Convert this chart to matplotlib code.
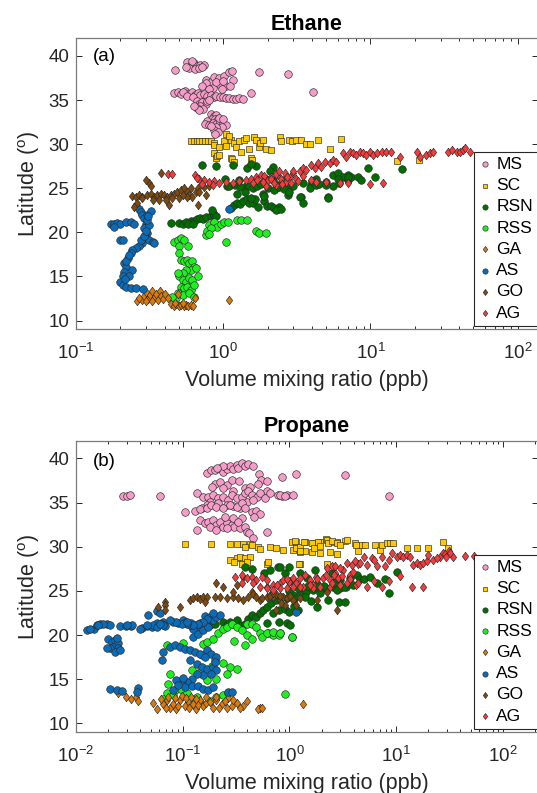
import matplotlib
matplotlib.use('Agg')
import matplotlib.pyplot as plt
from matplotlib.ticker import LogLocator, NullFormatter

plt.rcParams['font.family'] = ['Liberation Sans', 'DejaVu Sans']
plt.rcParams['mathtext.fontset'] = 'custom'
plt.rcParams['mathtext.rm'] = 'Liberation Sans'
plt.rcParams['mathtext.it'] = 'Liberation Sans'
plt.rcParams['mathtext.bf'] = 'Liberation Sans:bold'

# ---------------- data: (volume mixing ratio [ppb], latitude [deg]) ----------------
series_names = ['MS', 'SC', 'RSN', 'RSS', 'GA', 'AS', 'GO', 'AG']

# Ethane
eth_MS = [(0.57,39.3),(0.60,39.0),(0.63,39.2),(0.66,38.9),(0.70,39.0),(0.74,39.0),(0.59,38.6),(0.64,38.5),(0.68,38.6),(0.56,38.7),(0.72,38.8),(0.61,39.4),
          (0.47,38.4),(1.75,38.2),(2.75,38.0),(4.1,35.9),(1.55,35.8),
          (0.76,37.3),(0.82,37.0),(0.86,37.6),(0.94,37.5),(1.02,37.7),(1.10,38.2),(1.16,37.3),(1.05,36.6),(0.94,36.8),(0.85,36.4),(0.76,36.9),(0.72,36.6),(0.98,36.2),(1.12,36.6),(1.15,38.3),(0.90,37.0),(1.00,37.2),(0.80,36.2),
          (0.46,35.8),(0.49,35.9),(0.52,35.7),(0.55,36.0),(0.58,35.7),(0.61,35.9),(0.64,35.6),(0.67,35.8),(0.70,35.6),(0.74,35.7),(0.78,35.5),(0.82,35.6),(0.86,35.4),(0.90,35.5),(0.95,35.3),(1.00,35.4),(1.05,35.2),(1.10,35.2),(1.16,35.1),(1.22,35.1),(1.28,35.2),(1.36,35.1),(0.53,35.9),(0.57,35.5),(0.62,35.4),
          (0.66,34.9),(0.69,34.6),(0.72,34.8),(0.76,34.6),(0.70,34.3),(0.66,34.1),(0.73,34.0),(0.68,33.9),(0.78,34.9),(0.80,35.0),(0.63,34.3),
          (0.82,33.4),(0.86,33.2),(0.90,33.3),(0.84,32.9),(0.88,32.8),(0.92,32.9),(0.96,32.7),(0.78,32.6),(0.75,32.3),(0.80,32.2),(0.85,32.4),(0.90,32.3),(0.95,32.5),(1.00,32.4),(1.04,32.2),(0.98,31.9),(0.90,31.9),(0.86,31.6),(0.92,31.4),(0.88,31.2),(0.82,32.0),(0.94,33.0),(1.00,32.9)]
eth_SC = [(0.60,30.35),(0.63,30.35),(0.66,30.35),(0.69,30.35),(0.72,30.35),(0.75,30.35),(0.79,30.3),(0.83,30.3),(0.87,30.1),
          (0.87,29.9),(0.94,29.7),(1.02,30.3),(1.04,29.8),(1.13,30.5),(1.19,30.1),(1.22,29.7),(1.29,30.3),(1.32,29.15),(1.39,30.5),(1.43,30.7),(1.50,29.5),(1.63,30.85),(1.67,30.5),(1.74,29.7),(1.78,30.1),(1.85,30.5),(1.95,29.5),(2.11,29.35),(2.42,30.8),(2.45,30.3),(2.81,30.5),(2.95,30.3),(3.12,30.5),(3.39,30.5),(3.66,30.0),(3.9,30.0),(4.4,30.5),(5.3,29.5),(6.35,30.55),
          (0.87,28.96),(0.89,28.4),(0.91,28.6),(0.94,28.8),(1.13,28.4),(1.15,28.3),(1.18,28.0),(1.54,28.4),(1.58,28.2),(15.2,28.1),(21.5,28.2),(1.05,31.1),(1.10,30.9)]
eth_RSN = [(0.44,21.1),(0.50,21.1),(0.53,21.0),(0.56,21.2),(0.60,21.3),(0.63,21.3),(0.66,21.5),(0.70,21.6),(0.73,21.5),(0.77,21.7),(0.82,21.9),(0.85,22.2),(0.87,22.0),(0.90,21.8),(0.84,22.5),(0.58,20.9),(0.62,21.0),
           (1.13,22.8),(1.18,23.1),(1.24,23.3),(1.30,23.2),(1.37,23.6),(1.44,23.8),(1.49,23.3),(1.60,23.3),(1.65,23.8),(1.90,23.5),(1.98,23.0),(2.10,23.0),(2.20,22.8),(2.35,22.6),(2.40,22.9),(1.55,23.9),(1.72,22.9),
           (0.72,27.6),(0.90,27.5),(1.03,26.0),(1.06,25.2),(1.28,25.9),(1.43,25.2),(1.46,27.3),(1.67,27.5),(1.85,24.4),(1.95,26.1),(2.17,27.45),(2.28,25.0),(2.53,25.9),(2.89,25.2),(3.37,24.05),(3.95,25.4),(4.27,26.1),(5.13,24.05),(5.54,25.2),(6.15,25.56),(7.0,26.5),
           (2.07,26.9),(2.18,25.9),(2.35,25.4),(2.55,25.2),(2.75,24.2),(3.31,24.05),(3.48,23.3),(3.87,25.0),(4.29,25.4),(5.02,25.75),(5.15,23.9),(5.57,26.5),(6.03,26.7),(6.52,26.3),(7.05,25.9),(7.43,26.3),(8.25,26.3),(8.68,25.9),(9.64,27.26),(10.7,26.3),(16.3,27.2),
           (1.1,25.2),(1.2,25.4),(1.3,25.1),(1.5,25.3),(1.6,25.0),(1.7,25.2),(1.8,25.5),(2.0,25.0),(2.2,24.8),(2.4,25.1),(2.6,24.9),(3.0,25.3),(3.5,25.6),(4.0,25.8),(4.5,25.5),(5.0,25.4),(6.0,26.0),(7.0,26.3),(1.25,24.3),(1.4,24.6),(1.9,24.1),(2.8,24.6),(1.16,27.6),(1.55,27.7),(2.3,22.5),(2.45,22.7)]
eth_RSS = [(0.80,20.84),(0.87,21.2),(0.91,20.65),(0.96,21.0),(1.02,21.2),(1.07,21.2),(1.25,21.4),(1.32,21.4),(1.46,21.4),(1.67,20.1),(1.76,19.9),(1.95,19.9),(1.04,18.95),(0.76,19.7),(0.78,20.2),(0.82,20.5),(0.80,19.8),
           (0.464,18.95),(0.49,19.14),(0.515,19.33),(0.543,19.14),(0.50,18.4),(0.50,17.6),(0.515,16.9),(0.543,16.7),(0.572,16.9),(0.587,16.5),(0.618,16.7),(0.635,16.1),(0.60,15.7),(0.557,15.7),(0.53,15.4),(0.50,15.0),(0.49,15.4),(0.53,14.6),(0.557,14.4),(0.587,14.8),(0.618,14.6),(0.515,13.85),(0.543,13.66),(0.572,13.85),(0.60,13.5),(0.635,14.0),(0.49,13.1),(0.53,12.9),(0.587,13.1),(0.635,12.7),(0.48,12.5),(0.45,12.7),(0.65,16.0),(0.67,15.1),(0.58,18.5)]
eth_GA = [(0.26,12.2),(0.28,12.3),(0.29,12.8),(0.30,13.2),(0.31,12.4),(0.32,12.9),(0.33,13.4),(0.34,12.6),(0.35,13.0),(0.36,12.3),(0.37,13.3),(0.38,12.8),(0.39,12.4),(0.40,13.0),(0.42,12.5),(0.30,12.2),(0.33,12.2),(0.27,12.6),
          (0.44,11.9),(0.46,11.7),(0.48,11.9),(0.50,11.7),(0.52,11.8),(0.54,11.6),(0.56,11.8),(0.58,11.7),(0.60,11.8),(0.62,11.7),(0.47,12.0),(0.53,12.0),
          (1.1,12.3),(0.645,12.5),(0.49,13.0)]
eth_AS = [(0.172,20.9),(0.18,21.0),(0.19,21.1),(0.20,20.9),(0.218,21.2),(0.235,21.2),(0.248,21.0),(0.18,20.6),(0.20,19.1),(0.21,19.1),
          (0.255,23.0),(0.268,22.6),(0.275,22.3),(0.283,22.0),(0.29,21.6),(0.298,21.0),(0.298,20.5),(0.306,19.9),(0.298,19.3),(0.314,19.1),(0.331,18.9),(0.283,18.8),(0.268,18.4),(0.255,18.2),(0.242,18.0),(0.235,17.6),(0.275,19.1),(0.29,20.5),(0.306,22.0),(0.322,22.4),(0.314,20.8),(0.306,21.4),(0.34,18.8),(0.29,19.6),(0.30,20.2),(0.31,21.8),
          (0.224,17.1),(0.212,16.5),(0.218,16.1),(0.212,15.55),(0.207,15.0),(0.20,14.4),(0.207,14.0),(0.218,13.8),(0.235,13.7),(0.255,13.7),(0.242,15.7),(0.229,15.0),(0.287,13.55),(0.22,16.8),(0.23,17.4),(0.215,14.7),
          (1.1,22.7)]
eth_GO = [(0.242,24.1),(0.255,24.05),(0.268,24.24),(0.283,24.05),(0.306,24.24),(0.322,24.4),(0.34,24.05),(0.357,24.24),(0.377,24.4),(0.397,24.24),(0.418,24.05),(0.44,24.24),(0.464,24.4),(0.489,24.6),(0.515,24.8),(0.543,25.0),(0.557,24.4),(0.572,24.6),(0.587,24.24),(0.618,24.05),(0.652,24.6),(0.669,25.0),(0.687,24.6),(0.762,24.24),
          (0.429,23.1),(0.669,23.1),(0.26,23.3),(0.248,22.9),(0.314,25.56),(0.322,25.2),(0.377,26.7),(0.283,23.9),(0.331,23.7),(0.367,23.7),(0.407,23.7),(0.50,23.9),(0.572,24.05),(0.30,25.9),(0.74,25.1),(0.80,25.3),(0.45,23.9),(0.53,24.2),(0.60,25.0)]
eth_AG = [(0.42,26.6),(0.45,26.6),
          (0.645,26.5),(0.687,26.1),(0.74,25.9),(0.80,25.75),(0.87,25.8),(0.94,25.6),(1.04,25.75),(1.16,25.6),(1.28,25.8),(1.43,25.94),(1.54,26.1),(1.67,26.3),(1.80,26.5),(1.95,26.1),(0.66,26.2),(0.72,25.5),(0.85,25.4),
          (2.01,25.94),(2.12,26.3),(2.23,25.75),(2.35,26.5),(2.48,26.1),(2.61,26.7),(2.68,25.75),(2.83,26.3),(2.98,26.7),(3.14,26.1),(3.31,26.9),(3.48,27.26),(3.67,27.07),(3.97,27.64),(4.18,27.26),(4.41,27.83),(4.64,27.45),(4.89,28.0),(5.29,27.83),(5.57,28.2),(5.87,28.0),(6.52,28.96),(6.87,28.59),(7.23,29.15),(7.62,28.96),(8.03,28.78),(8.46,29.15),(8.91,28.96),(9.39,28.78),(9.89,29.15),(10.4,28.78),(11.0,28.96),(11.9,29.15),(12.8,29.15),(13.9,29.15),(15.8,28.59),(20.6,29.15),(21.7,28.59),(24.0,28.78),(25.3,28.96),(26.7,29.15),(33.7,29.15),(35.6,29.34),(38.5,29.15),(40.5,29.15),(42.7,29.34),(43.8,29.53),(47.4,29.15),
          (3.97,25.94),(4.29,25.75),(5.02,25.75),(6.19,25.56),(7.05,25.56),(9.89,25.5),(12.2,25.56),(1.96,25.2),(2.29,25.37),
          (1.6,25.6),(1.7,25.9),(1.9,26.4),(2.1,26.0),(2.3,26.6),(2.5,25.5),(2.7,26.3),(2.9,25.6),(3.2,25.8),(3.5,26.4),(3.0,26.9),(2.4,26.9),(2.2,25.6),(1.85,25.7)]

# Propane
pro_MS = [(0.167,38.4),(0.186,38.7),(0.20,38.7),(0.223,38.9),(0.24,38.5),(0.258,38.8),(0.277,39.1),(0.297,38.8),(0.32,39.3),(0.33,38.9),(0.356,39.5),(0.382,39.1),(0.411,39.4),(0.451,39.1),(0.237,39.1),(0.21,38.9),
          (0.52,38.2),(0.545,37.6),(0.51,37.1),(0.85,37.9),(1.16,38.2),(3.3,38.1),(8.6,35.8),(0.61,37.5),(0.62,36.3),
          (0.20,37.1),(0.223,37.3),(0.258,37.0),(0.287,37.6),(0.34,37.4),(0.382,36.6),(0.43,36.8),(0.297,36.3),(0.24,36.6),(0.19,36.8),
          (0.135,36.07),(0.156,35.69),(0.173,35.69),(0.193,35.88),(0.215,35.5),(0.24,35.69),(0.267,35.31),(0.287,35.88),(0.32,35.5),(0.356,35.69),(0.382,36.07),(0.411,36.26),(0.442,35.88),(0.492,35.69),(0.528,36.07),(0.589,35.5),(0.655,36.07),(0.784,35.88),(0.843,35.77),(0.938,35.88),(1.08,35.88),(0.82,35.9),(0.90,35.8),
          (0.18,35.12),(0.215,34.93),(0.258,34.75),(0.297,34.56),(0.344,34.37),(0.396,35.12),(0.457,35.31),(0.167,34.75),(0.15,34.37),
          (0.105,33.9),(0.13,34.0),(0.145,34.3),(0.167,34.4),(0.186,34.7),(0.207,34.5),(0.24,34.4),(0.277,34.7),(0.32,34.5),(0.356,34.9),(0.382,34.4),(0.442,33.9),(0.49,34.1),(0.528,33.7),(0.47,33.4),
          (0.145,33.04),(0.16,32.66),(0.173,32.85),(0.193,33.04),(0.207,32.47),(0.223,32.85),(0.24,32.28),(0.258,32.66),(0.287,32.47),(0.305,32.28),(0.344,32.1),(0.382,32.28),(0.396,31.72),(0.42,31.53),(0.457,30.96),(0.356,33.23),(0.297,33.23),(0.25,33.42),(0.61,31.72),(0.18,32.28),(0.207,31.9),(0.258,32.1),(0.33,32.85),(0.135,31.9),
          (0.0277,35.7),(0.0298,35.75),(0.032,35.9),(0.061,35.8)]
pro_SC = [(0.105,30.3),(0.186,30.3),(0.277,30.32),(0.32,30.32),(0.368,30.32),(0.426,30.32),(0.382,29.94),(0.442,30.2),(0.51,29.94),(0.528,29.71),(0.655,29.94),(0.755,29.83),(0.87,29.64),(1.045,30.58),(1.16,30.58),(1.39,30.58),(1.67,30.47),(1.93,30.58),(2.22,30.85),(2.48,30.58),(2.76,30.58),(3.3,30.7),(4.1,30.4),(1.08,29.64),(1.25,29.45),(1.39,29.56),(1.61,29.45),(1.93,29.26),(2.39,29.45),(2.76,29.18),(4.4,29.56),
          (0.277,28.5),(0.32,28.69),(0.344,28.88),(0.382,28.69),(0.356,28.1),(0.426,28.88),(0.61,28.1),(0.63,28.3),(1.25,28.05),(0.30,28.3),(0.40,28.3),
          (1.13,30.6),(1.15,29.86),(1.25,30.0),(1.25,29.5),(1.38,30.5),(1.62,30.43),(1.68,29.86),(1.87,30.5),(1.94,30.05),(2.24,30.8),(2.32,30.43),(2.5,30.6),(2.78,30.43),(2.99,30.24),(3.45,30.8),(4.22,30.24),(4.76,30.24),(5.12,30.24),(6.35,30.24),(7.08,29.67),(7.33,30.24),(8.17,30.43),(8.78,30.43),(9.43,30.43),(12.6,29.86),(15.6,29.86),(20.0,29.86),(27.7,30.5),(30.8,29.86),(1.24,28.1),(2.24,28.0)]
pro_RSN = [(0.18,21.1),(0.20,21.3),(0.24,21.5),(0.258,21.1),(0.277,21.5),(0.297,21.3),(0.32,21.7),(0.344,21.1),(0.382,21.3),(0.411,21.8),(0.442,22.3),(0.49,22.1),(0.528,22.5),(0.57,22.85),(0.61,23.2),(0.67,23.6),(0.75,24.0),(0.84,24.3),(0.94,24.2),(1.08,24.5),(1.25,24.75),(1.44,24.9),(1.67,25.1),(1.93,25.1),(2.22,25.3),(2.57,25.5),(2.97,25.3),(3.4,25.5),(3.94,25.7),
           (0.382,27.7),(0.442,27.45),(0.576,27.0),(0.655,27.4),(0.78,27.75),
           (0.82,27.7),(0.91,27.0),(0.98,27.7),(1.016,26.1),(1.13,25.9),(1.26,27.0),(1.46,26.45),(1.74,27.4),(1.81,23.2),(1.94,24.75),(2.32,24.0),(2.5,27.0),(2.78,25.1),(2.88,23.8),(3.21,25.5),(3.33,23.8),(3.7,26.45),(4.28,26.8),(4.6,26.3),(4.94,26.3),(5.7,26.6),(6.58,25.9),(7.88,26.3),(8.47,24.75),(10.1,27.2),
           (0.61,21.35),(0.79,21.5),(0.946,21.35),(1.016,21.2),(0.70,22.5),(0.80,22.8),(0.90,23.0),(1.0,22.6),(1.1,23.3),(1.2,22.9),
           (1.0,25.0),(1.2,25.3),(1.5,25.6),(1.8,25.8),(2.1,25.6),(2.6,26.0),(3.0,26.2),(1.1,24.1),(1.4,24.3),(1.6,23.9)]
pro_RSS = [(0.0706,18.85),(0.101,19.1),(0.156,19.05),(0.167,19.2),(0.193,19.6),(0.215,20.2),(0.24,20.75),(0.258,20.9),(0.287,21.3),(0.32,20.9),(0.356,20.55),(0.396,21.3),(0.442,21.3),(0.49,20.9),(0.528,20.2),(0.55,19.8),(0.63,20.2),(0.70,20.0),(0.81,20.2),(1.045,19.8),(0.382,18.85),
           (0.20,17.15),(0.24,16.8),(0.277,16.4),(0.32,16.2),(0.258,15.6),(0.207,15.07),(0.167,14.88),(0.145,15.8),(0.121,16.0),(0.0758,15.6),(0.0731,14.5),(0.0843,13.75),(0.0706,13.4),(0.0814,13.2),(0.0976,13.75),(0.109,13.4),(0.135,13.0),(0.18,12.6),(0.207,13.0),(0.24,13.2),(0.267,13.4),(0.90,13.3),(0.121,12.8),(0.145,12.4),(0.0658,12.8),
           (0.61,20.2),(0.70,20.4),(0.79,20.0),(0.82,20.2),(1.06,19.8),(0.30,19.3),(0.40,20.0),(0.45,19.6),(0.15,17.8),(0.19,16.5)]
pro_GA = [(0.0249,13.4),(0.0297,12.95),(0.0325,12.8),(0.0363,12.95),(0.0383,12.6),
          (0.053,12.3),(0.057,11.6),(0.0658,12.2),(0.0706,12.7),(0.0758,11.8),(0.0814,12.2),(0.0873,11.6),(0.094,12.7),(0.1046,12.0),(0.1122,12.5),(0.1247,12.2),(0.134,11.6),(0.1444,12.7),(0.155,12.0),(0.1665,12.3),(0.193,11.8),(0.2067,12.7),(0.2314,12.2),(0.2575,11.8),(0.287,12.0),(0.32,12.3),(0.369,12.0),(0.396,12.5),
          (0.063,12.74),(0.073,12.96),(0.0843,12.85),(0.0976,13.1),(0.1083,12.85),(0.1204,13.0),(0.134,12.74),(0.1665,12.96),(0.2067,13.0),(0.267,12.85),(0.297,12.7),(0.344,11.8),(0.527,11.8),(0.51,11.6),(0.55,11.8),(1.34,12.2),
          (0.07,11.7),(0.09,12.0),(0.115,11.8),(0.14,12.1),(0.18,12.4),(0.22,11.7),(0.25,12.5)]
pro_AS = [(0.0126,20.6),(0.0148,20.7),(0.0158,21.1),(0.0168,21.25),(0.0196,21.25),(0.0258,21.05),(0.0294,21.0),(0.0325,21.05),(0.0412,20.8),(0.046,21.0),(0.051,20.9),(0.057,21.35),(0.0658,21.5),(0.068,21.0),(0.0476,22.3),(0.057,22.7),
          (0.0814,21.5),(0.0906,21.35),(0.101,21.7),(0.108,21.5),(0.12,21.35),(0.134,21.15),(0.144,21.35),(0.161,22.2),(0.166,21.35),(0.18,22.1),(0.173,21.7),(0.156,20.9),(0.14,20.6),(0.125,20.75),(0.117,21.1),
          (0.0201,19.54),(0.0216,19.27),(0.0231,19.46),(0.0249,19.08),(0.0224,18.7),(0.0249,18.5),(0.0208,18.5),(0.0231,18.1),(0.0258,18.3),(0.0194,18.5),(0.024,19.65),
          (0.0208,13.85),(0.024,13.8),(0.0268,13.7),(0.0383,13.98),(0.0369,13.6),
          (0.0658,18.1),(0.0635,17.2),(0.0758,18.7),(0.0843,18.85),(0.094,18.66),(0.105,18.47),(0.117,18.28),(0.13,18.1),(0.145,17.9),(0.167,18.28),(0.186,17.9),(0.207,17.5),(0.117,17.15),(0.135,16.77),(0.15,16.4),(0.167,16.2),(0.193,16.4),(0.207,16.0),(0.186,15.64),(0.156,15.45),(0.135,15.64),(0.121,15.07),(0.109,14.7),(0.0976,14.88),(0.0873,14.88),(0.105,14.1),(0.121,14.3),(0.14,14.3),(0.156,13.94),(0.173,13.75),(0.193,14.1),(0.0814,13.75),(0.267,13.56),(0.287,13.56),(0.09,14.4),(0.10,15.2),(0.20,17.0),(0.16,17.5),
          (0.125,19.8),(0.14,20.18),(0.156,20.56),(0.173,20.93),(0.193,21.69),(0.207,22.07),(0.223,22.26),(0.193,22.45),(0.167,21.88),(0.156,21.5),(0.14,21.31),(0.125,21.12),(0.109,21.31),(0.0976,21.31),(0.0873,21.5),(0.0758,21.69),(0.061,22.45),(0.0635,21.31),(0.0658,21.12),(0.053,21.12),(0.0459,21.12),(0.0397,20.75),(0.0332,21.12),(0.0298,21.12),(0.0208,21.12),(0.018,21.31),(0.0162,21.12),(0.0135,20.75),(0.109,21.5),(0.057,20.93),(0.061,21.31),
          (1.14,22.67)]
pro_GO = [(0.059,23.2),(0.0685,23.8),(0.0685,23.4),(0.0685,22.8),(0.094,23.2),(0.117,23.96),(0.125,24.15),(0.135,24.34),(0.145,24.04),(0.156,24.26),(0.167,24.34),(0.16,23.77),(0.207,25.85),(0.24,25.5),(0.20,24.34),(0.223,24.34),(0.258,24.15),(0.297,24.34),(0.33,24.15),(0.368,23.96),(0.411,24.34),(0.442,24.9),(0.457,24.7),(0.49,24.34),(0.528,23.96),(0.55,24.15),(0.61,24.34),(0.655,24.5),(0.70,24.34),(0.75,24.7),(0.81,23.96),(0.87,24.34),(0.938,24.15),(1.08,23.96),(0.90,23.4),(1.16,23.4),(0.32,25.7),(0.368,26.6),(0.297,24.9),
          (0.61,25.5),(0.655,24.4),(0.70,24.75),(0.82,24.4),(0.84,23.6),(1.016,24.45),(1.26,24.2),(1.81,24.0),(2.24,24.9),(2.78,22.9),(0.75,22.9)]
pro_AG = [(0.308,26.6),(0.356,26.8),(0.356,25.85),(0.396,26.42),(0.442,26.6),(0.49,26.23),(0.55,26.6),(0.61,26.23),(0.70,25.67),(0.81,25.85),(0.87,26.23),(1.0,26.04),(1.08,26.42),(1.16,25.85),(1.25,26.42),(1.39,26.8),(1.56,26.23),(1.67,25.67),(1.79,26.6),(2.08,26.42),(2.22,26.8),(2.39,26.23),(2.67,27.0),(2.87,26.42),(3.2,27.4),(3.7,26.8),(3.94,27.2),(4.4,28.1),(4.24,25.67),(3.43,25.85),(2.97,25.67),(2.39,25.48),(1.93,25.48),(1.67,25.3),(1.34,25.48),(1.08,25.48),(0.938,25.3),(0.81,25.3),(0.70,25.1),(0.61,25.3),(0.528,25.48),(0.457,25.85),
          (2.24,27.6),(2.5,27.8),(2.68,27.8),(2.99,27.6),(3.45,28.16),(3.84,27.97),(4.13,28.35),(4.6,28.16),(4.94,28.9),(5.31,27.97),(5.91,28.72),(6.13,28.5),(6.58,27.8),(7.33,28.9),(7.88,27.8),(8.47,28.5),(9.1,29.3),(10.1,28.9),(10.9,29.1),(11.7,28.9),(12.6,29.1),(13.5,28.9),(14.5,27.97),(15.6,28.16),(16.8,27.97),(18.0,28.16),(19.4,28.35),(20.0,29.1),(22.3,28.5),(25.8,28.9),(27.7,29.3),(30.9,29.48),(34.4,28.9),(44.2,29.0),(53.0,29.0),
          (4.43,25.9),(5.31,25.5),(6.13,26.1),(7.33,25.5),(8.47,26.1),(10.9,26.66),(14.0,25.5),(18.0,25.5),(3.7,26.3),(3.1,26.66),(2.59,26.85),(2.5,25.9),(1.81,26.3),(1.56,25.7),(1.26,25.5),(0.945,26.3),(0.762,25.7),
          (28.5,29.2),(29.5,28.8),(32.0,29.3),(24.0,28.7)]

ethane_series = [eth_MS, eth_SC, eth_RSN, eth_RSS, eth_GA, eth_AS, eth_GO, eth_AG]
propane_series = [pro_MS, pro_SC, pro_RSN, pro_RSS, pro_GA, pro_AS, pro_GO, pro_AG]

y_ticks = [10, 15, 20, 25, 30, 35, 40]

# ---------------- styles ----------------
DIAMOND = [(0, 1), (0.74, 0), (0, -1), (-0.74, 0), (0, 1)]
colors = ['#F59CC9', '#FFC800', '#006E00', '#1EF01E', '#DC7A0C', '#0A6CB8', '#7E4A10', '#F53B3B']
markers = ['o', 's', 'o', 'o', DIAMOND, 'o', DIAMOND, DIAMOND]
sizes = [30, 17, 30, 30, 38, 30, 38, 38]
EDGE = '#2a2a2a'
AXC = '#262626'

fig = plt.figure(figsize=(5.37, 7.93), dpi=100)
ax1 = fig.add_axes([0.1415, 0.5847, 0.8603, 0.367])
ax2 = fig.add_axes([0.1415, 0.0765, 0.8603, 0.3677])


def draw(ax, series, xlim, title, tag, tag_y):
    for name, pts, c, m, s in zip(series_names, series, colors, markers, sizes):
        xs = [p[0] for p in pts]
        ys = [p[1] for p in pts]
        ax.scatter(xs, ys, s=s, c=c, marker=m, edgecolors=EDGE,
                   linewidths=0.45, label=name)
    ax.set_xscale('log')
    ax.set_xlim(*xlim)
    ax.set_ylim(9, 42)
    ax.set_yticks(y_ticks)
    ax.xaxis.set_major_locator(LogLocator(base=10, numticks=10))
    ax.xaxis.set_minor_locator(LogLocator(base=10, subs=range(2, 10), numticks=20))
    ax.xaxis.set_minor_formatter(NullFormatter())
    ax.tick_params(which='both', direction='in', top=True, right=True,
                   colors=AXC, labelcolor=AXC, width=0.7)
    ax.tick_params(which='major', length=4, labelsize=13.5)
    ax.tick_params(axis='y', which='major', pad=5)
    ax.tick_params(axis='x', which='major', pad=10)
    ax.tick_params(which='minor', length=2)
    for sp in ax.spines.values():
        sp.set_color('#7a7a7a')
        sp.set_linewidth(0.9)
    ax.set_xlabel('Volume mixing ratio (ppb)', fontsize=15.5, color=AXC, labelpad=5)
    ax.set_ylabel(r'Latitude ($^{\mathrm{o}}$)', fontsize=15.5, color=AXC, labelpad=4)
    ax.set_title(title, fontsize=15.5, fontweight='bold', pad=6)
    ax.text(0.037, tag_y, tag, transform=ax.transAxes, fontsize=13.5,
            ha='left', va='center', color='black')
    leg = ax.legend(loc='lower right', bbox_to_anchor=(1.0, 0.012), borderaxespad=0,
                    fancybox=False, framealpha=1, edgecolor=AXC, fontsize=12.5,
                    handlelength=0.6, handletextpad=0.35, borderpad=0.3,
                    labelspacing=0.35, markerscale=0.7)
    leg.get_frame().set_linewidth(0.8)


draw(ax1, ethane_series, (0.1, 10 ** 2.138), 'Ethane', '(a)', 0.936)
draw(ax2, propane_series, (0.01, 10 ** 2.328), 'Propane', '(b)', 0.93)

fig.savefig('out.png', dpi=100)
